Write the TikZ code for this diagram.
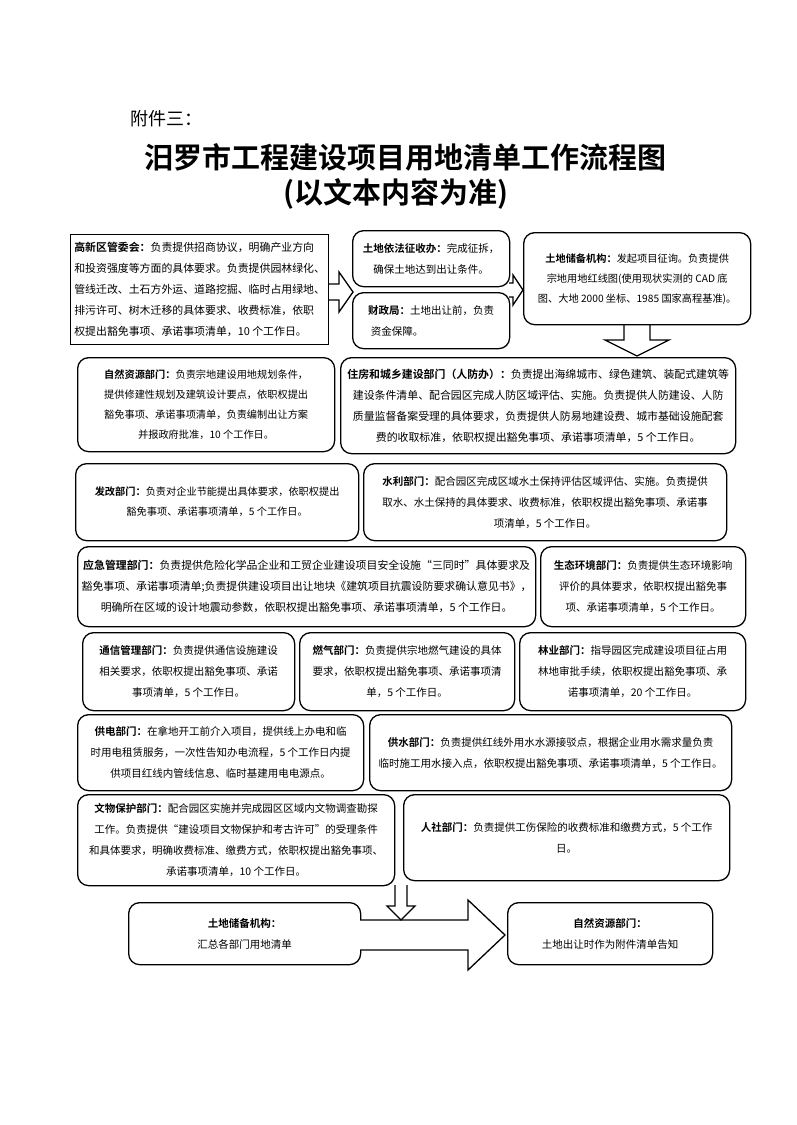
\documentclass[tikz,border=0pt]{standalone}
\usepackage{fontspec}
\setmainfont{Noto Sans CJK SC}[BoldFont={Noto Sans CJK SC Bold}]
\usetikzlibrary{calc}
\tikzset{
  box/.style={draw, line width=1.3pt, rounded corners=11pt, align=center, inner sep=0pt,
    font=\fontsize{10.5}{21}\selectfont},
  sqbox/.style={box, rounded corners=0pt, align=left},
  big/.style={font=\fontsize{10.9}{21}\selectfont},
  small/.style={font=\fontsize{10.2}{20}\selectfont},
  blockarrow/.style={draw, line width=1.3pt, fill=white, line join=miter},
}
\newcommand{\mkbox}[7][box]{%
  \pgfmathsetmacro{\bw}{#5-#3}\pgfmathsetmacro{\bh}{#6-#4}%
  \node[box, #1, minimum width=\bw pt, minimum height=\bh pt, anchor=north west] (#2) at (#3,#4) {};%
  \node[box, #1, draw=none, anchor=center] (#2t) at (#2.center) {#7};%
}
\begin{document}
\begin{tikzpicture}[x=1pt,y=-1pt]
\useasboundingbox (0,0) rectangle (797,1125);
\fill[white] (0,0) rectangle (797,1125);

% titles
\node[anchor=west, font=\fontsize{18}{18}\selectfont] (att) at (127,119) {附件三：};
\node[font=\fontsize{29}{29}\selectfont\bfseries] (title) at (405,157) {汨罗市工程建设项目用地清单工作流程图};
\node[font=\fontsize{29}{29}\selectfont\bfseries] (subtitle) at (396,194) {(以文本内容为准)};

% arrows (drawn first where boxes overlap)
\draw[blockarrow] (328,284) -- (339,284) -- (339,272) -- (353,292) -- (339,312) -- (339,300) -- (328,300);
\draw[blockarrow] (509,283) -- (513,283) -- (513,275) -- (523,290) -- (513,305) -- (513,297) -- (509,297);
\draw[blockarrow] (624,324) -- (624,340) -- (605,340) -- (637,356) -- (669,340) -- (650,340) -- (650,324);

% boxes
\mkbox[sqbox,big]{A}{70}{234}{328}{344}{\textbf{高新区管委会：}负责提供招商协议，明确产业方向\\和投资强度等方面的具体要求。负责提供园林绿化、\\管线迁改、土石方外运、道路挖掘、临时占用绿地、\\排污许可、树木迁移的具体要求、收费标准，依职\\权提出豁免事项、承诺事项清单，10 个工作日。}
\mkbox{B}{352}{230}{509}{286}{\textbf{土地依法征收办：}完成征拆，\\确保土地达到出让条件。}
\mkbox{C}{352}{292}{509}{348}{\textbf{财政局：}土地出让前，负责\\资金保障。\hspace*{6.5em}}
\mkbox[small]{D}{523}{232}{750}{324}{\textbf{土地储备机构：}发起项目征询。负责提供\\宗地用地红线图(使用现状实测的 CAD 底\\图、大地 2000 坐标、1985 国家高程基准)。}
\mkbox[small]{E}{77}{357}{334}{451}{\textbf{自然资源部门：}负责宗地建设用地规划条件，\\提供修建性规划及建筑设计要点，依职权提出\\豁免事项、承诺事项清单，负责编制出让方案\\并报政府批准，10 个工作日。}
\mkbox[big]{F}{340}{357}{735}{453}{\textbf{住房和城乡建设部门（人防办）：}负责提出海绵城市、绿色建筑、装配式建筑等\\建设条件清单、配合园区完成人防区域评估、实施。负责提供人防建设、人防\\质量监督备案受理的具体要求，负责提供人防易地建设费、城市基础设施配套\\费的收取标准，依职权提出豁免事项、承诺事项清单，5 个工作日。}
\mkbox[small]{G}{75}{463}{358}{540}{\textbf{发改部门：}负责对企业节能提出具体要求，依职权提出\\豁免事项、承诺事项清单，5 个工作日。}
\mkbox{H}{363}{463}{726}{540}{\textbf{水利部门：}配合园区完成区域水土保持评估区域评估、实施。负责提供\\取水、水土保持的具体要求、收费标准，依职权提出豁免事项、承诺事\\项清单，5 个工作日。}
\mkbox[big]{I}{77}{546}{535}{626}{\textbf{应急管理部门：}负责提供危险化学品企业和工贸企业建设项目安全设施“三同时”具体要求及\\豁免事项、承诺事项清单;负责提供建设项目出让地块《建筑项目抗震设防要求确认意见书》，\\明确所在区域的设计地震动参数，依职权提出豁免事项、承诺事项清单，5 个工作日。}
\mkbox{J}{540}{546}{745}{626}{\textbf{生态环境部门：}负责提供生态环境影响\\评价的具体要求，依职权提出豁免事\\项、承诺事项清单，5 个工作日。}
\mkbox{K}{82}{632}{294}{710}{\textbf{通信管理部门：}负责提供通信设施建设\\相关要求，依职权提出豁免事项、承诺\\事项清单，5 个工作日。}
\mkbox{L}{299}{632}{514}{710}{\textbf{燃气部门：}负责提供宗地燃气建设的具体\\要求，依职权提出豁免事项、承诺事项清\\单，5 个工作日。}
\mkbox{M}{519}{632}{745}{710}{\textbf{林业部门：}指导园区完成建设项目征占用\\林地审批手续，依职权提出豁免事项、承\\诺事项清单，20 个工作日。}
\mkbox{N}{77}{714}{363}{790}{\textbf{供电部门：}在拿地开工前介入项目，提供线上办电和临\\时用电租赁服务，一次性告知办电流程，5 个工作日内提\\供项目红线内管线信息、临时基建用电电源点。}
\mkbox{O}{369}{714}{731}{790}{\textbf{供水部门：}负责提供红线外用水水源接驳点，根据企业用水需求量负责\\临时施工用水接入点，依职权提出豁免事项、承诺事项清单，5 个工作日。}
\mkbox{P}{77}{794}{394}{885}{\textbf{文物保护部门：}配合园区实施并完成园区区域内文物调查勘探\\工作。负责提供“建设项目文物保护和考古许可”的受理条件\\和具体要求，明确收费标准、缴费方式，依职权提出豁免事项、\\承诺事项清单，10 个工作日。}
\mkbox{Q}{403}{794}{729}{880}{\textbf{人社部门：}负责提供工伤保险的收费标准和缴费方式，5 个工作\\日。}
\mkbox{R}{128}{902}{360}{964}{\textbf{土地储备机构：}\\汇总各部门用地清单}
\mkbox{S}{507}{902}{712}{964}{\textbf{自然资源部门：}\\土地出让时作为附件清单告知}

% bottom arrows
\draw[blockarrow] (360,920) -- (468,920) -- (468,900) -- (505,935) -- (468,970) -- (468,950) -- (360,950);
\draw[blockarrow] (395,885) -- (395,906) -- (387,906) -- (401,920) -- (415,906) -- (407,906) -- (407,885);
\end{tikzpicture}
\end{document}
